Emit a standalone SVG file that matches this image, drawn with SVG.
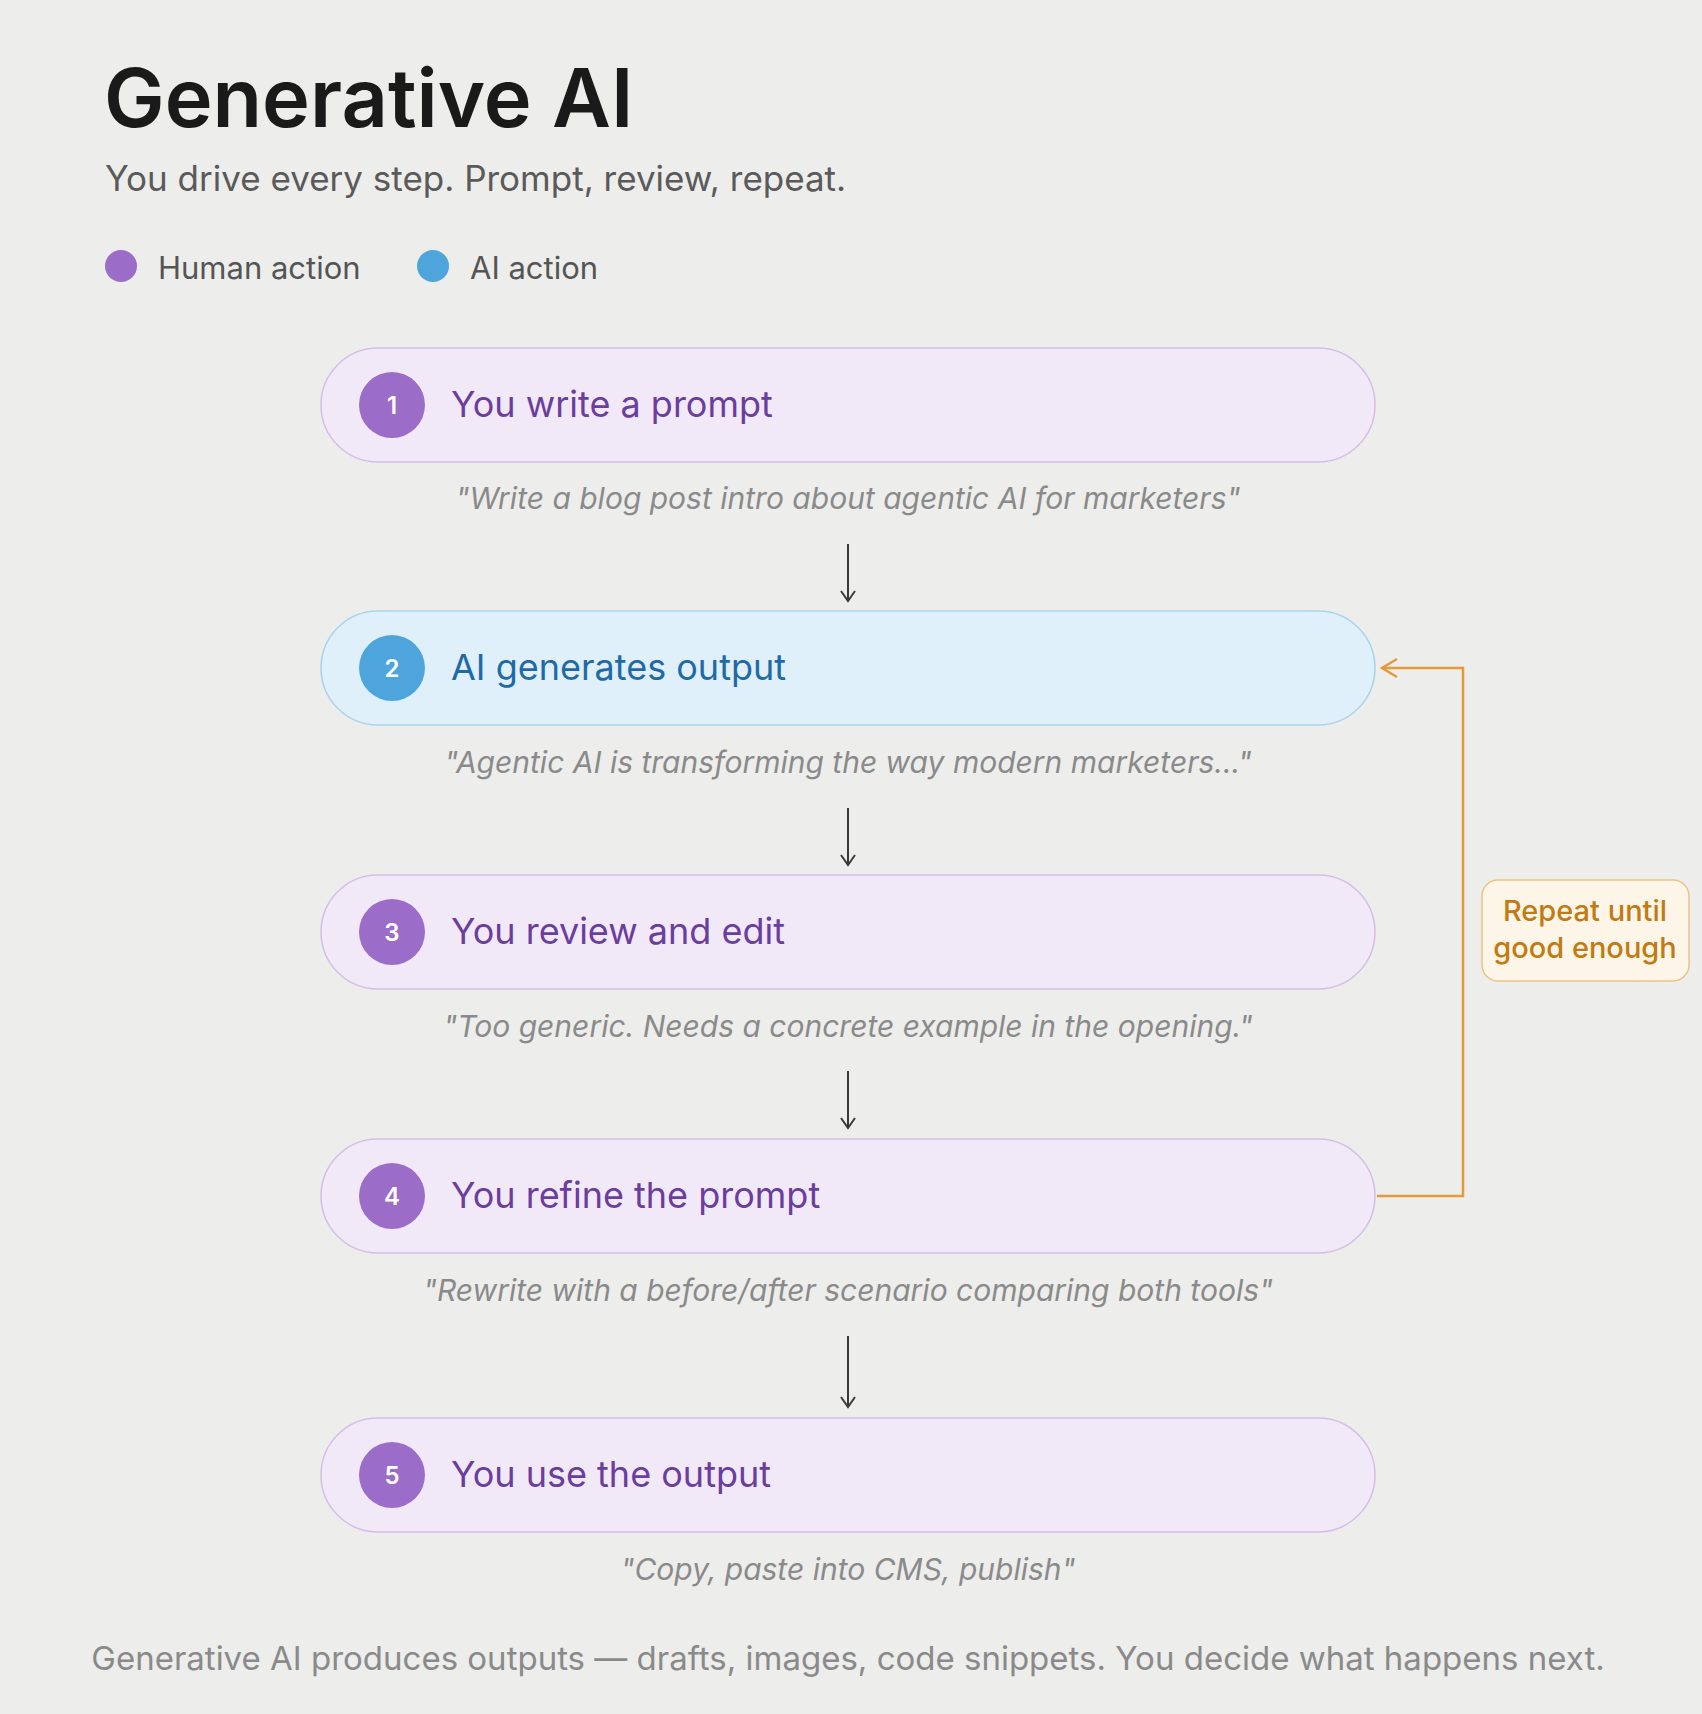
<svg xmlns="http://www.w3.org/2000/svg" width="1702" height="1714" viewBox="0 0 1702 1714">
<style>
text{font-family:Inter,"Liberation Sans",sans-serif}
.h{fill:#f2e9f8;stroke:#d6bde9;stroke-width:1.5}
.a{fill:#dff0fb;stroke:#a8d3ef;stroke-width:1.5}
.hc{fill:#9b6cc8}.ac{fill:#4ea5db}
.num{fill:#fff;font-size:24px;font-weight:600;text-anchor:middle}
.hl{fill:#6a3d9e;font-size:36px}
.al{fill:#1f6aa6;font-size:36px}
.q{fill:#8a8a8a;font-size:30px;font-style:italic;text-anchor:middle}
.arr{stroke:#3a3a3a;stroke-width:2;fill:none}
</style>
<defs>
<marker id="ah" markerWidth="16" markerHeight="16" refX="14" refY="8" orient="auto" markerUnits="userSpaceOnUse"><path d="M4,1 L14,8 L4,15" fill="none" stroke="#3a3a3a" stroke-width="2"/></marker>
</defs>
<rect width="1702" height="1714" fill="#ededeb"/>
<text x="104" y="127" font-size="81" font-weight="600" fill="#1a1a1a">Generative AI</text>
<text x="105" y="191" font-size="35" fill="#5a5a5a">You drive every step. Prompt, review, repeat.</text>
<circle cx="121" cy="266" r="16" class="hc"/>
<text x="158" y="279" font-size="31" fill="#555">Human action</text>
<circle cx="433" cy="266" r="16" class="ac"/>
<text x="470" y="279" font-size="31" fill="#555">AI action</text>

<g id="n1"><rect x="321" y="348" width="1054" height="114" rx="57" class="h"/><circle cx="392" cy="405" r="33" class="hc"/><text x="392" y="414" class="num">1</text><text x="451" y="417" class="hl">You write a prompt</text><text x="848" y="509" class="q">"Write a blog post intro about agentic AI for marketers"</text></g>
<g id="n2"><rect x="321" y="611" width="1054" height="114" rx="57" class="a"/><circle cx="392" cy="668" r="33" class="ac"/><text x="392" y="677" class="num">2</text><text x="451" y="680" class="al">AI generates output</text><text x="848" y="773" class="q">"Agentic AI is transforming the way modern marketers..."</text></g>
<g id="n3"><rect x="321" y="875" width="1054" height="114" rx="57" class="h"/><circle cx="392" cy="932" r="33" class="hc"/><text x="392" y="941" class="num">3</text><text x="451" y="944" class="hl">You review and edit</text><text x="848" y="1037" class="q">"Too generic. Needs a concrete example in the opening."</text></g>
<g id="n4"><rect x="321" y="1139" width="1054" height="114" rx="57" class="h"/><circle cx="392" cy="1196" r="33" class="hc"/><text x="392" y="1205" class="num">4</text><text x="451" y="1208" class="hl">You refine the prompt</text><text x="848" y="1301" class="q">"Rewrite with a before/after scenario comparing both tools"</text></g>
<g id="n5"><rect x="321" y="1418" width="1054" height="114" rx="57" class="h"/><circle cx="392" cy="1475" r="33" class="hc"/><text x="392" y="1484" class="num">5</text><text x="451" y="1487" class="hl">You use the output</text><text x="848" y="1580" class="q">"Copy, paste into CMS, publish"</text></g>

<g id="connectors">
<line x1="848" y1="544" x2="848" y2="601" class="arr" marker-end="url(#ah)"/>
<line x1="848" y1="808" x2="848" y2="865" class="arr" marker-end="url(#ah)"/>
<line x1="848" y1="1071" x2="848" y2="1128" class="arr" marker-end="url(#ah)"/>
<line x1="848" y1="1336" x2="848" y2="1407" class="arr" marker-end="url(#ah)"/>
<path d="M1377,1196 H1463 V668 H1382" fill="none" stroke="#e49a3a" stroke-width="2.5"/>
<path d="M1397,659 L1382,668 L1397,677" fill="none" stroke="#e49a3a" stroke-width="2.5"/>
</g>
<g id="loop-label"><rect x="1482" y="880" width="207" height="101" rx="16" fill="#fdf6e8" stroke="#ecc384" stroke-width="1.5"/>
<text x="1585" y="921" font-size="29" font-weight="500" fill="#c27a12" text-anchor="middle">Repeat until</text>
<text x="1585" y="958" font-size="29" font-weight="500" fill="#c27a12" text-anchor="middle">good enough</text></g>
<text x="848" y="1670" font-size="33" fill="#8a8a8a" text-anchor="middle">Generative AI produces outputs — drafts, images, code snippets. You decide what happens next.</text>
</svg>
